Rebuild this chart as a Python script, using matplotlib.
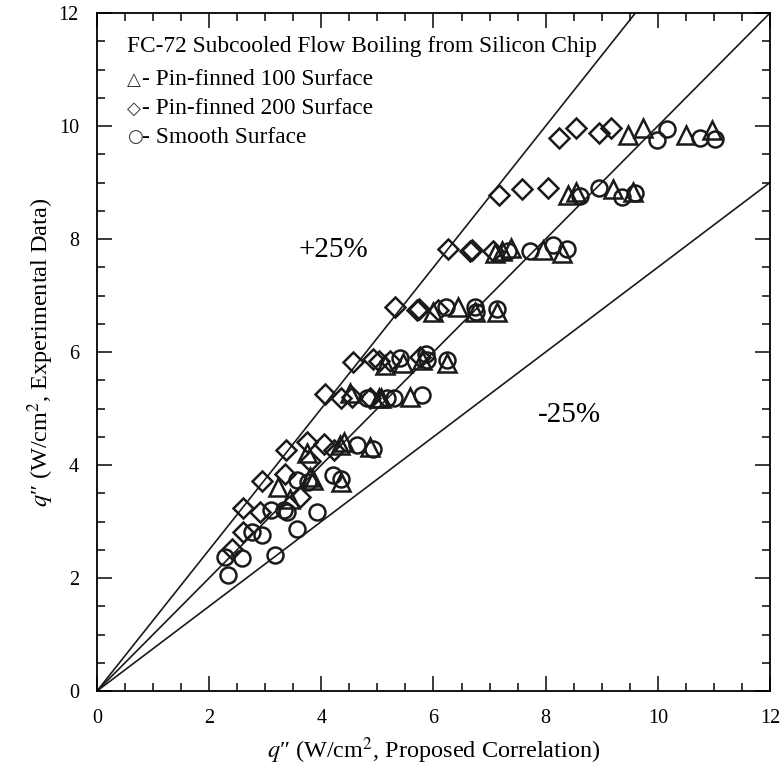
import numpy as np
import matplotlib
matplotlib.use("Agg")
import matplotlib.pyplot as plt
from matplotlib.ticker import MultipleLocator

plt.rcParams['font.family'] = ['Liberation Serif', 'DejaVu Sans']
plt.rcParams['mathtext.fontset'] = 'stix'

# Pin-finned 100 surface (triangles)
pf100_x = [9.47, 9.73, 10.51, 10.97,
           8.40, 8.54, 9.20, 9.56,
           7.10, 7.22, 7.38, 7.95, 8.29,
           6.00, 6.44, 6.74, 7.13,
           5.14, 5.46, 5.79, 6.25,
           4.51, 5.02, 5.07, 5.58,
           3.74, 4.33, 4.40, 4.87,
           3.23, 3.80, 3.86, 4.36,
           3.44]
pf100_y = [9.84, 9.96, 9.84, 9.93,
           8.78, 8.84, 8.88, 8.84,
           7.75, 7.78, 7.84, 7.81, 7.75,
           6.71, 6.79, 6.71, 6.71,
           5.77, 5.80, 5.86, 5.80,
           5.28, 5.18, 5.18, 5.21,
           4.21, 4.35, 4.41, 4.32,
           3.62, 3.79, 3.73, 3.70,
           3.40]

# Pin-finned 200 surface (diamonds)
pf200_x = [8.23, 8.54, 8.95, 9.17,
           7.17, 7.58, 8.05,
           6.26, 6.66, 6.68, 7.07,
           5.31, 5.70, 5.75, 6.08,
           4.57, 4.93, 5.03, 5.22, 5.76,
           4.07, 4.36, 4.54, 4.87,
           3.37, 3.75, 3.80, 4.04, 4.22,
           2.94, 3.35,
           3.62,
           2.61, 2.90,
           2.61,
           2.40]
pf200_y = [9.78, 9.96, 9.87, 9.96,
           8.78, 8.88, 8.90,
           7.82, 7.79, 7.81, 7.78,
           6.79, 6.74, 6.76, 6.74,
           5.83, 5.88, 5.85, 5.85, 5.92,
           5.25, 5.18, 5.21, 5.18,
           4.27, 4.40, 4.08, 4.37, 4.27,
           3.71, 3.85,
           3.44,
           3.24, 3.17,
           2.81,
           2.52]

# Smooth surface (circles)
smooth_x = [9.98, 10.17, 10.75, 11.02,
            8.61, 8.95, 9.37, 9.59,
            7.33, 7.73, 8.14, 8.38,
            6.22, 6.74, 6.76, 7.13,
            5.40, 5.87, 5.88, 6.25,
            4.81, 5.17, 5.30, 5.79,
            4.63, 4.93,
            3.56, 3.76, 4.21, 4.35,
            3.10, 3.33, 3.38, 3.92,
            2.77, 2.94, 3.56,
            2.29, 2.59, 3.17,
            2.34]
smooth_y = [9.75, 9.95, 9.78, 9.77,
            8.76, 8.90, 8.74, 8.82,
            7.78, 7.79, 7.89, 7.83,
            6.79, 6.79, 6.70, 6.77,
            5.89, 5.97, 5.86, 5.86,
            5.18, 5.18, 5.18, 5.24,
            4.35, 4.29,
            3.73, 3.70, 3.82, 3.75,
            3.20, 3.20, 3.17, 3.17,
            2.82, 2.76, 2.86,
            2.37, 2.35, 2.40,
            2.06]

ref_slopes = [1.25, 1.0, 0.75]

legend_symbols = ["△", "◇", "○"]
legend_labels = ["- Pin-finned 100 Surface", "- Pin-finned 200 Surface", "- Smooth Surface"]

fig = plt.figure(figsize=(7.84, 7.76), dpi=100)
ax = fig.add_axes([0.1237, 0.1095, 0.8584, 0.8737])

xs = np.array([0, 12])
for s in ref_slopes:
    ax.plot(xs, s * xs, color='#1a1a1a', lw=1.2, zorder=1)

mk = dict(linestyle='none', markerfacecolor='none', markeredgecolor='#1a1a1a',
          markeredgewidth=1.8, zorder=3)
ax.plot(pf200_x, pf200_y, marker='D', markersize=9.8, **mk)
ax.plot(smooth_x, smooth_y, marker='o', markersize=11.5, **mk)
ax.plot(pf100_x, pf100_y, marker='^', markersize=12.5, **mk)

ax.set_xlim(0, 12)
ax.set_ylim(0, 12)
ax.xaxis.set_major_locator(MultipleLocator(2))
ax.xaxis.set_minor_locator(MultipleLocator(0.5))
ax.yaxis.set_major_locator(MultipleLocator(2))
ax.yaxis.set_minor_locator(MultipleLocator(0.5))
ax.tick_params(which='both', direction='in', top=True, right=True,
               labelsize=14.5, color='#1a1a1a', width=1.2)
ax.tick_params(which='major', length=11, pad=13)
ax.tick_params(which='minor', length=5.5)
for sp in ax.spines.values():
    sp.set_linewidth(1.3)

ax.set_xlabel(r"$q$″ (W/cm$^2$, Proposed Correlation)", fontsize=17.5, labelpad=5)
ax.set_ylabel(r"$q$″ (W/cm$^2$, Experimental Data)", fontsize=17.5, labelpad=2)

ax.text(0.53, 11.4, "FC-72 Subcooled Flow Boiling from Silicon Chip",
        fontsize=16.8, va='center', ha='left')
for i, (sym, lab) in enumerate(zip(legend_symbols, legend_labels)):
    yy = 10.82 - 0.51 * i
    ax.text(0.53, yy, sym, fontsize=13, va='center', ha='left', color='#333333',
            family=['DejaVu Sans'])
    ax.text(0.81, yy, lab, fontsize=16.8, va='center', ha='left')

ax.text(4.21, 7.8, "+25%", fontsize=21, ha='center', va='center')
ax.text(8.43, 4.88, "-25%", fontsize=21, ha='center', va='center')

fig.savefig("out.png", dpi=100)
